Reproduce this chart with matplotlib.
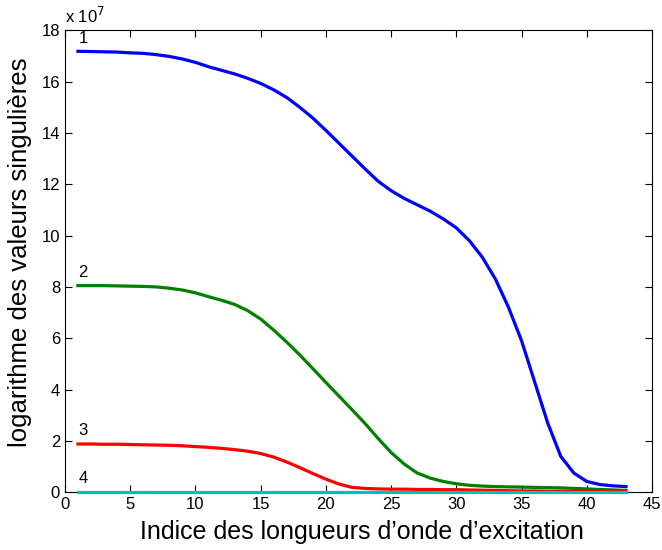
import matplotlib
matplotlib.use('Agg')
import matplotlib.pyplot as plt
import numpy as np

plt.rcParams['font.family'] = ['Liberation Sans', 'DejaVu Sans']

# singular values, in units of 1e7, for excitation wavelength indices 1..43
idx = np.arange(1, 44)
sv1 = [17.18, 17.17, 17.16, 17.15, 17.12, 17.1, 17.05, 16.98, 16.88, 16.75,
       16.58, 16.44, 16.3, 16.13, 15.93, 15.68, 15.38, 15.0, 14.58, 14.1,
       13.6, 13.1, 12.6, 12.12, 11.75, 11.45, 11.2, 10.95, 10.65, 10.3,
       9.8, 9.15, 8.3, 7.2, 5.9, 4.3, 2.7, 1.4, 0.75, 0.42,
       0.3, 0.25, 0.22]
sv2 = [8.05, 8.05, 8.05, 8.04, 8.03, 8.02, 8.0, 7.95, 7.88, 7.77,
       7.62, 7.48, 7.32, 7.08, 6.75, 6.32, 5.85, 5.35, 4.82, 4.28,
       3.75, 3.22, 2.68, 2.1, 1.55, 1.1, 0.75, 0.55, 0.42, 0.33,
       0.27, 0.24, 0.22, 0.21, 0.2, 0.19, 0.18, 0.17, 0.15, 0.13,
       0.11, 0.09, 0.07]
sv3 = [1.88, 1.88, 1.87, 1.87, 1.86, 1.85, 1.84, 1.83, 1.81, 1.78,
       1.75, 1.71, 1.66, 1.6, 1.51, 1.37, 1.18, 0.96, 0.73, 0.51,
       0.32, 0.19, 0.15, 0.13, 0.12, 0.12, 0.11, 0.11, 0.1, 0.1,
       0.09, 0.08, 0.07, 0.06, 0.05, 0.05, 0.04, 0.04, 0.03, 0.03,
       0.03, 0.03, 0.03]
sv4 = [0.02] * 43

series = [sv1, sv2, sv3, sv4]
labels = ['1', '2', '3', '4']
colors = ['#0000ff', '#008000', '#ff0000', '#00bfbf']

fig = plt.figure(figsize=(6.62, 5.5), dpi=100)
ax = fig.add_axes([0.098, 0.105, 0.887, 0.84])

for s, lab, c in zip(series, labels, colors):
    ax.plot(idx, s, color=c, linewidth=2.3, clip_on=False, zorder=3)
    ax.text(idx[0] + 0.4, s[0] + 0.22, lab, fontsize=12, ha='center', va='bottom')

ax.set_xlim(0, 45)
ax.set_ylim(0, 18)
ax.set_xticks(np.arange(0, 46, 5))
ax.set_yticks(np.arange(0, 19, 2))
ax.tick_params(direction='in', top=True, right=True, labelsize=12, length=5)
ax.set_xlabel('Indice des longueurs d\u2019onde d\u2019excitation', fontsize=18)
ax.set_ylabel('logarithme des valeurs singuli\u00e8res', fontsize=18.5)
ax.xaxis.set_label_coords(0.506, -0.06)
ax.yaxis.set_label_coords(-0.056, 0.52)
ax.text(0.0, 1.01, 'x 10$^{7}$', transform=ax.transAxes, fontsize=12, va='bottom')

fig.savefig('out.png', dpi=100)
